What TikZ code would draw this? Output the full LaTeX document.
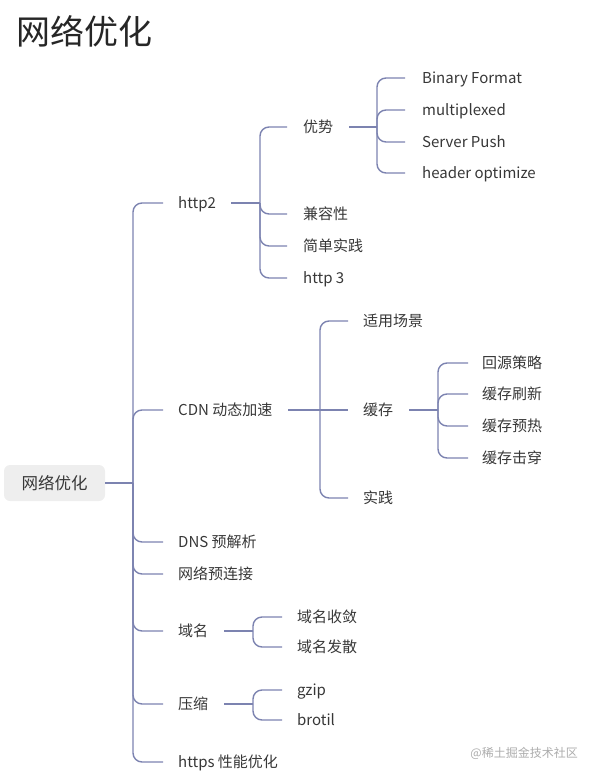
\documentclass[tikz,border=0pt]{standalone}
\usepackage{fontspec}
\setmainfont{Noto Sans CJK SC}
\definecolor{ln}{RGB}{124,131,176}
\definecolor{tx}{RGB}{55,55,55}
\begin{document}
\begin{tikzpicture}[x=1pt,y=-1pt,
  lbl/.style={anchor=west,inner sep=0pt,font=\fontsize{15}{15}\selectfont,text=tx,text height=12pt,text depth=1pt},
  br/.style={draw=ln,line width=1.4pt,rounded corners=9pt}]
\useasboundingbox (0,0) rectangle (599,781);
% title
\node[anchor=west,inner sep=0pt,font=\fontsize{34}{34}\selectfont,text=black!85] (title) at (16,31) {网络优化};
% root
\node[fill=gray!13,rounded corners=6pt,minimum width=101pt,minimum height=36pt,inner sep=0pt,
      font=\fontsize{16.5}{16.5}\selectfont,text=tx] (root) at (54.5,483) {网络优化};
% level 1
\node[lbl] (h2) at (178,203) {http2};
\node[lbl] (cdn) at (178,410) {CDN 动态加速};
\node[lbl] (dns) at (178,542) {DNS 预解析};
\node[lbl] (pre) at (178,574) {网络预连接};
\node[lbl] (ym) at (178,631) {域名};
\node[lbl] (ys) at (178,704) {压缩};
\node[lbl] (https) at (178,762) {https 性能优化};
% http2 children
\node[lbl] (adv) at (303,127) {优势};
\node[lbl] (jr) at (303,214) {兼容性};
\node[lbl] (jd) at (303,246) {简单实践};
\node[lbl] (h3) at (303,278) {http 3};
% advantage children
\node[lbl] (bf) at (422,78) {Binary Format};
\node[lbl] (mp) at (422,110) {multiplexed};
\node[lbl] (sp) at (422,142) {Server Push};
\node[lbl] (ho) at (422,173) {header optimize};
% CDN children
\node[lbl] (sy) at (363,321) {适用场景};
\node[lbl] (hc) at (363,410) {缓存};
\node[lbl] (sj) at (363,498) {实践};
% cache children
\node[lbl] (c1) at (482,363) {回源策略};
\node[lbl] (c2) at (482,394) {缓存刷新};
\node[lbl] (c3) at (482,426) {缓存预热};
\node[lbl] (c4) at (482,458) {缓存击穿};
% domain children
\node[lbl] (d1) at (297,617) {域名收敛};
\node[lbl] (d2) at (297,647) {域名发散};
% compression children
\node[lbl] (z1) at (297,690) {gzip};
\node[lbl] (z2) at (297,720) {brotil};
% watermark
\node[anchor=east,inner sep=0pt,font=\fontsize{12}{12}\selectfont,text=gray!65] (wm) at (578,753) {@稀土掘金技术社区};
% junctions
\coordinate (j0) at (133,483);
\coordinate (j1) at (260,203);
\coordinate (j2) at (377,127);
\coordinate (j3) at (320,410);
\coordinate (j4) at (438,410);
\coordinate (j5) at (253,631);
\coordinate (j6) at (253,704);
% connectors
\draw[br] (root.east) -- (j0);
\foreach \c in {h2,cdn,dns,pre,ym,ys,https} \draw[br] (j0) |- ([xshift=-15pt]\c.west);
\draw[br] ([xshift=15pt]h2.east) -- (j1);
\foreach \c in {adv,jr,jd,h3} \draw[br] (j1) |- ([xshift=-16pt]\c.west);
\draw[br] ([xshift=16pt]adv.east) -- (j2);
\foreach \c in {bf,mp,sp,ho} \draw[br] (j2) |- ([xshift=-17pt]\c.west);
\draw[br] ([xshift=16pt]cdn.east) -- (j3);
\draw[br] (j3) |- ([xshift=-15pt]sy.west);
\draw[br] (j3) -- ([xshift=-15pt]hc.west);
\draw[br] (j3) |- ([xshift=-15pt]sj.west);
\draw[br] ([xshift=16pt]hc.east) -- (j4);
\foreach \c in {c1,c2,c3,c4} \draw[br] (j4) |- ([xshift=-14pt]\c.west);
\draw[br] ([xshift=16pt]ym.east) -- (j5);
\foreach \c in {d1,d2} \draw[br] (j5) |- ([xshift=-15pt]\c.west);
\draw[br] ([xshift=16pt]ys.east) -- (j6);
\foreach \c in {z1,z2} \draw[br] (j6) |- ([xshift=-15pt]\c.west);
\end{tikzpicture}
\end{document}
